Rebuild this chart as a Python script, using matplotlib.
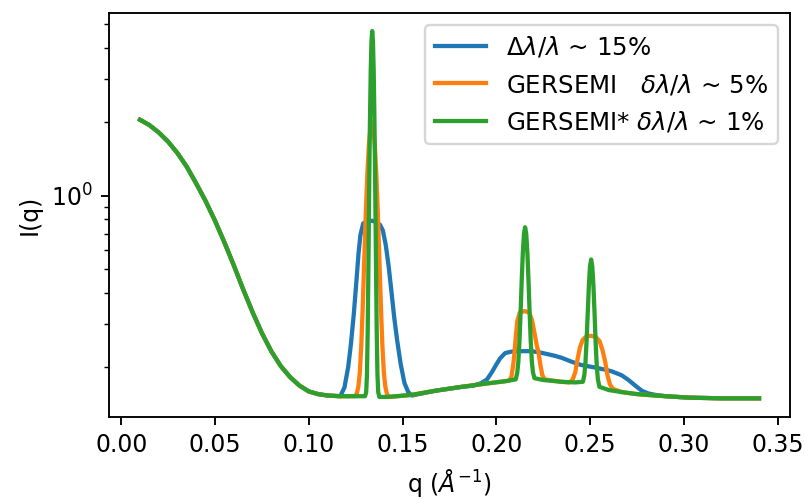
import matplotlib
matplotlib.use("Agg")
import matplotlib.pyplot as plt
import numpy as np

# ---- shared low-q decay (all three curves coincide here) ----
q_decay = [0.0100, 0.0150, 0.0200, 0.0250, 0.0300, 0.0350, 0.0400, 0.0450, 0.0500,
           0.0550, 0.0600, 0.0650, 0.0700, 0.0750, 0.0800, 0.0850, 0.0900, 0.0950,
           0.1000, 0.1050, 0.1100, 0.1168]
I_decay = [2.04, 1.94, 1.81, 1.66, 1.49, 1.31, 1.12, 0.95, 0.79,
           0.645, 0.52, 0.415, 0.335, 0.275, 0.232, 0.202, 0.182, 0.168,
           0.159, 0.155, 0.153, 0.152]

# ---- Delta lambda / lambda ~ 15 % ----
q_blue = [0.1190, 0.1210, 0.1225, 0.1240, 0.1255, 0.1265, 0.1275, 0.1290, 0.1310,
          0.1336, 0.1360, 0.1380, 0.1395, 0.1410, 0.1425, 0.1440, 0.1455, 0.1470,
          0.1490, 0.1510, 0.1530, 0.1550, 0.1674, 0.1816, 0.1880, 0.1920, 0.1950,
          0.1975, 0.2000, 0.2020, 0.2047, 0.2080, 0.2118, 0.2180, 0.2224, 0.2280,
          0.2313, 0.2348, 0.2402, 0.2450, 0.2526, 0.2580, 0.2615, 0.2668, 0.2704,
          0.2740, 0.2775, 0.2810, 0.2846, 0.2900, 0.3024, 0.3200, 0.3400]
I_blue = [0.165, 0.20, 0.25, 0.33, 0.46, 0.58, 0.69, 0.77, 0.785,
          0.79, 0.78, 0.76, 0.72, 0.63, 0.52, 0.41, 0.32, 0.26,
          0.205, 0.172, 0.158, 0.153, 0.160, 0.166, 0.168, 0.172, 0.178,
          0.190, 0.205, 0.217, 0.228, 0.231, 0.232, 0.232, 0.230, 0.225,
          0.222, 0.218, 0.210, 0.204, 0.199, 0.195, 0.192, 0.185, 0.177,
          0.168, 0.160, 0.156, 0.154, 0.152, 0.150, 0.149, 0.149]

# ---- GERSEMI  delta lambda / lambda ~ 5 % ----
q_orange = [0.1200, 0.1246, 0.1256, 0.1264, 0.1272, 0.1280, 0.1288, 0.1296, 0.1304,
            0.1312, 0.1320, 0.1328, 0.1336, 0.1344, 0.1352, 0.1360, 0.1368, 0.1376,
            0.1384, 0.1392, 0.1400, 0.1408, 0.1416, 0.1426, 0.1470, 0.1550, 0.1674,
            0.1816, 0.1940, 0.2047, 0.2068, 0.2080, 0.2090, 0.2097, 0.2104, 0.2112,
            0.2125, 0.2150, 0.2175, 0.2190, 0.2205, 0.2215, 0.2224, 0.2234, 0.2245,
            0.2258, 0.2300, 0.2348, 0.2385, 0.2395, 0.2407, 0.2420, 0.2430, 0.2445,
            0.2460, 0.2480, 0.2505, 0.2530, 0.2550, 0.2565, 0.2580, 0.2592, 0.2605,
            0.2620, 0.2668, 0.2750, 0.2846, 0.3024, 0.3200, 0.3400]
I_orange = [0.152, 0.152, 0.156, 0.166, 0.19, 0.247, 0.36, 0.557, 0.85,
            1.22, 1.60, 1.88, 1.99, 1.88, 1.60, 1.22, 0.85, 0.557,
            0.36, 0.247, 0.19, 0.166, 0.156, 0.151, 0.152, 0.154, 0.160,
            0.166, 0.171, 0.175, 0.176, 0.182, 0.205, 0.231, 0.27, 0.31,
            0.334, 0.338, 0.334, 0.31, 0.27, 0.245, 0.231, 0.205, 0.185,
            0.178, 0.176, 0.174, 0.173, 0.174, 0.178, 0.19, 0.21, 0.24,
            0.258, 0.267, 0.268, 0.265, 0.255, 0.235, 0.21, 0.185, 0.170,
            0.163, 0.158, 0.155, 0.153, 0.150, 0.149, 0.149]

# ---- GERSEMI*  delta lambda / lambda ~ 1 % ----
q_green = [0.1200, 0.1250, 0.1300, 0.1306, 0.1310, 0.1314, 0.1318, 0.1322, 0.1326,
           0.1330, 0.1334, 0.1338, 0.1342, 0.1346, 0.1350, 0.1354, 0.1358, 0.1362,
           0.1366, 0.1370, 0.1376, 0.1420, 0.1470, 0.1550, 0.1674, 0.1816, 0.1940,
           0.2047, 0.2103, 0.2111, 0.2117, 0.2123, 0.2129, 0.2135, 0.2141, 0.2147,
           0.2153, 0.2159, 0.2165, 0.2171, 0.2177, 0.2183, 0.2189, 0.2195, 0.2203,
           0.2250, 0.2348, 0.2420, 0.2461, 0.2469, 0.2475, 0.2481, 0.2487, 0.2493,
           0.2499, 0.2505, 0.2511, 0.2517, 0.2523, 0.2529, 0.2535, 0.2541, 0.2549,
           0.2600, 0.2668, 0.2750, 0.2846, 0.3024, 0.3200, 0.3400]
I_green = [0.152, 0.152, 0.152, 0.158, 0.186, 0.28, 0.535, 1.085, 2.02,
           3.21, 4.26, 4.69, 4.26, 3.21, 2.02, 1.085, 0.535, 0.28,
           0.186, 0.158, 0.151, 0.151, 0.152, 0.154, 0.160, 0.166, 0.171,
           0.175, 0.178, 0.189, 0.21, 0.255, 0.335, 0.453, 0.588, 0.70,
           0.743, 0.70, 0.588, 0.453, 0.335, 0.255, 0.21, 0.19, 0.180,
           0.177, 0.174, 0.173, 0.174, 0.186, 0.21, 0.259, 0.334, 0.431,
           0.515, 0.549, 0.515, 0.431, 0.334, 0.251, 0.202, 0.178, 0.166,
           0.161, 0.158, 0.155, 0.153, 0.150, 0.149, 0.149]

labels = [r'$\Delta\lambda/\lambda$ ~ 15%',
          r'GERSEMI   $\delta\lambda/\lambda$ ~ 5%',
          r'GERSEMI* $\delta\lambda/\lambda$ ~ 1%']
colors = ['#1f77b4', '#ff7f0e', '#2ca02c']

dpi = 170
fig = plt.figure(figsize=(805 / dpi, 500 / dpi), dpi=dpi)
ax = fig.add_axes([109 / 805, 1 - 416.7 / 500, (790 - 109) / 805, (416.7 - 12.7) / 500])

series = [(q_blue, I_blue), (q_orange, I_orange), (q_green, I_green)]
for (qs, Is), lab, c in zip(series, labels, colors):
    ax.plot(q_decay + qs, I_decay + Is, color=c, label=lab, linewidth=1.8)

ax.set_yscale('log')
ax.set_xlabel(r'q ($\AA^{-1}$)')
ax.set_ylabel('I(q)')
ax.legend(loc='upper right', fontsize=10.4, handlelength=2.1)

fig.savefig('out.png', dpi=dpi)
